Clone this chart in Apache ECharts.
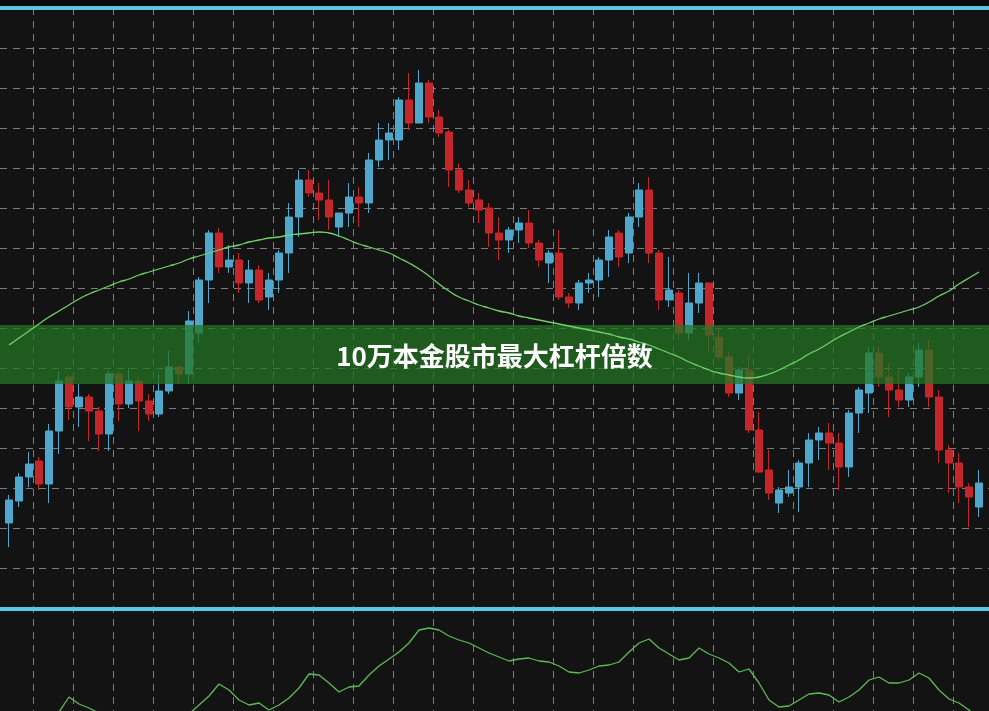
<!DOCTYPE html>
<html>
<head>
<meta charset="utf-8">
<script src="https://cdn.jsdelivr.net/npm/echarts@6/dist/echarts.min.js"></script>
<style>
html,body{margin:0;padding:0;background:#131313;}
#chart{width:989px;height:711px;}
</style>
</head>
<body>
<div id="chart"></div>
<script>
// ---- data ----
var titleText = '10万本金股市最大杠杆倍数';
var openVals  = [3085,3107,3131,3147,3124,3177,3231,3201,3211,3197,3174,3234,3204,3227,3207,3194,3217,3241,3234,3275,3328,3375,3341,3348,3325,3338,3311,3328,3355,3391,3428,3415,3408,3381,3395,3411,3405,3448,3468,3468,3508,3485,3525,3491,3476,3438,3418,3408,3400,3375,3368,3378,3385,3365,3345,3355,3311,3305,3325,3328,3348,3375,3355,3391,3418,3355,3308,3315,3275,3305,3325,3271,3251,3215,3238,3178,3138,3105,3115,3121,3145,3168,3175,3165,3141,3195,3215,3255,3231,3218,3208,3231,3258,3211,3158,3145,3121,3101];
var closeVals = [3108,3131,3144,3124,3177,3227,3201,3211,3197,3174,3234,3204,3227,3207,3194,3217,3241,3234,3287,3328,3375,3341,3348,3325,3338,3308,3328,3355,3391,3428,3415,3408,3391,3395,3411,3405,3448,3468,3475,3508,3485,3525,3491,3475,3438,3418,3405,3398,3375,3368,3378,3385,3365,3348,3355,3311,3305,3325,3328,3348,3371,3351,3391,3418,3355,3308,3318,3275,3305,3325,3273,3251,3215,3238,3178,3136,3115,3118,3121,3145,3168,3175,3165,3141,3195,3218,3255,3231,3218,3208,3231,3258,3211,3158,3145,3121,3111,3125];
var lowVals   = [3061,3101,3121,3118,3105,3154,3188,3181,3167,3157,3157,3187,3200,3177,3187,3191,3214,3224,3224,3265,3305,3335,3335,3315,3305,3305,3298,3315,3335,3371,3411,3388,3378,3371,3381,3381,3395,3441,3448,3458,3478,3485,3485,3471,3421,3415,3401,3385,3361,3348,3355,3365,3360,3341,3325,3308,3300,3298,3315,3311,3331,3341,3345,3381,3345,3298,3301,3268,3268,3295,3256,3248,3211,3208,3175,3135,3108,3095,3111,3096,3121,3148,3138,3118,3131,3175,3195,3221,3191,3201,3201,3221,3201,3145,3115,3105,3081,3091];
var highVals  = [3113,3135,3156,3151,3184,3237,3233,3224,3214,3201,3237,3237,3240,3231,3214,3234,3257,3241,3297,3331,3378,3380,3363,3355,3348,3343,3335,3358,3405,3438,3438,3425,3428,3395,3425,3421,3455,3485,3485,3511,3535,3538,3528,3498,3478,3445,3428,3415,3405,3391,3381,3391,3398,3368,3358,3378,3315,3328,3335,3351,3378,3378,3395,3425,3431,3358,3351,3318,3335,3335,3325,3280,3256,3241,3253,3196,3158,3121,3138,3148,3175,3181,3185,3175,3198,3221,3261,3261,3245,3238,3235,3265,3268,3218,3163,3155,3125,3138];
var maVals    = [3263,3270,3277,3284,3291,3297,3303,3309,3314,3318,3322,3326,3329,3333,3336,3339,3342,3345,3349,3352,3355,3358,3361,3363,3366,3368,3370,3371,3373,3374,3375,3376,3375,3372,3368,3364,3361,3358,3355,3350,3345,3339,3332,3324,3317,3311,3307,3303,3300,3297,3295,3292,3290,3288,3286,3284,3282,3280,3278,3276,3274,3271,3269,3266,3263,3259,3255,3251,3246,3242,3238,3235,3233,3231,3230,3231,3234,3238,3243,3248,3254,3259,3265,3271,3276,3281,3285,3289,3292,3295,3298,3301,3306,3312,3317,3324,3330,3336];
var oscVals   = [31,36,43,49,55,59,74,67,63,58,49,43,39,36,38,41,46,51,57,66,75,87,81,71,66,68,61,66,73,83,97,96,88,79,84,85,96,105,112,119,128,141,143,141,135,131,128,123,118,114,110,112,113,110,109,105,99,98,101,105,106,109,119,128,132,123,117,111,113,123,117,113,108,99,102,88,71,64,65,71,77,78,76,69,74,81,91,94,88,88,91,98,93,81,72,68,61,53];
var categories = openVals.map(function (_, i) { return 'K' + (i + 1); });

// candlestick data [open, close, low, high]
var kData = openVals.map(function (o, i) { return [o, closeVals[i], lowVals[i], highVals[i]]; });

var upColor = '#4fa8cc';
var downColor = '#c4272b';
var gridColor = '#7e7e7e';

var chart = echarts.init(document.getElementById('chart'), null, {renderer: 'canvas'});
chart.setOption({
  backgroundColor: '#131313',
  animation: false,
  title: {
    text: titleText,
    left: 'center',
    top: 338,
    z: 10,
    textStyle: {
      color: '#ffffff',
      fontSize: 26,
      fontWeight: 'bold',
      fontFamily: '"Noto Sans CJK SC", "Noto Sans", sans-serif'
    }
  },
  grid: [
    {left: 4, right: 5, top: 8, height: 600},      // candles
    {left: 0, right: 0, top: 8, height: 600},      // horizontal grid lines
    {left: 33, width: 920, top: 8, bottom: 0},     // vertical grid lines
    {left: 4, right: 5, top: 611, bottom: 0}       // lower indicator
  ],
  xAxis: [
    {type: 'category', gridIndex: 0, data: categories, boundaryGap: true, show: false},
    {type: 'value', gridIndex: 1, min: 0, max: 1, show: false},
    {type: 'value', gridIndex: 2, min: 0, max: 920, interval: 40,
      axisLine: {show: false}, axisTick: {show: false}, axisLabel: {show: false},
      splitLine: {show: true, lineStyle: {color: gridColor, width: 1, type: [7, 6]}}},
    {type: 'category', gridIndex: 3, data: categories, boundaryGap: true, show: false}
  ],
  yAxis: [
    {type: 'value', gridIndex: 0, min: 3000, max: 3600, show: false, splitLine: {show: false}},
    {type: 'value', gridIndex: 1, min: 3000, max: 3600, interval: 40,
      axisLine: {show: false}, axisTick: {show: false}, axisLabel: {show: false},
      splitLine: {show: true, lineStyle: {color: gridColor, width: 1, type: [7, 6]}}},
    {type: 'value', gridIndex: 2, show: false, splitLine: {show: false}},
    {type: 'value', gridIndex: 3, min: 60, max: 160, show: false, splitLine: {show: false}}
  ],
  graphic: [
    {type: 'rect', shape: {x: 0, y: 0, width: 989, height: 6}, style: {fill: '#0b0b0b'}, z: 1},
    {type: 'rect', shape: {x: 0, y: 6, width: 989, height: 4}, style: {fill: '#5cc5e0'}, z: 5},
    {type: 'rect', shape: {x: 0, y: 607, width: 989, height: 4}, style: {fill: '#5cc5e0'}, z: 5},
    {type: 'rect', shape: {x: 0, y: 325, width: 989, height: 59}, style: {fill: 'rgba(36,118,36,0.74)'}, z: 3}
  ],
  series: [
    {
      type: 'candlestick',
      xAxisIndex: 0, yAxisIndex: 0,
      data: kData,
      barWidth: 7,
      z: 2,
      itemStyle: {
        color: upColor, color0: downColor,
        borderColor: upColor, borderColor0: downColor,
        borderWidth: 1
      }
    },
    {
      type: 'line',
      xAxisIndex: 0, yAxisIndex: 0,
      data: maVals,
      smooth: 0.6,
      showSymbol: false,
      z: 4,
      lineStyle: {color: '#6fd36a', width: 1.3}
    },
    {
      type: 'line',
      xAxisIndex: 3, yAxisIndex: 3,
      data: oscVals,
      smooth: false,
      showSymbol: false,
      clip: true,
      z: 4,
      lineStyle: {color: '#5dbb55', width: 1.3}
    }
  ]
});
</script>
</body>
</html>
